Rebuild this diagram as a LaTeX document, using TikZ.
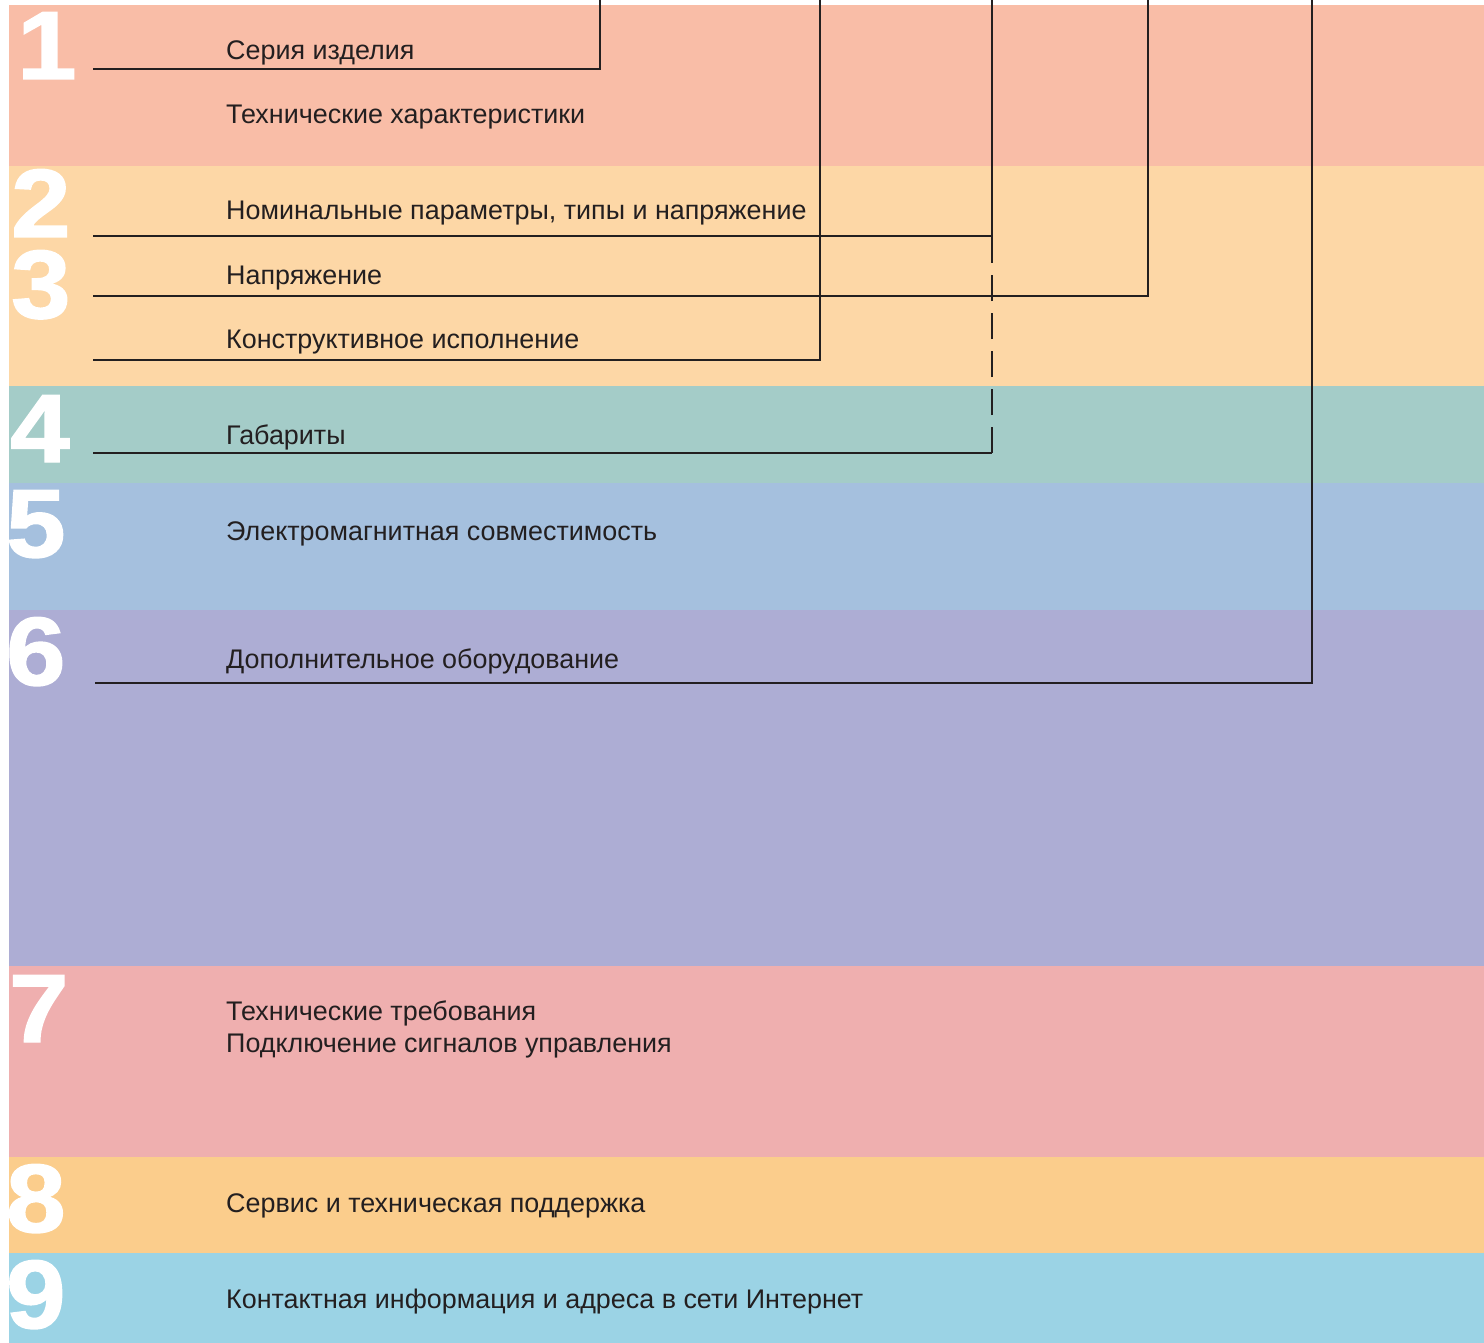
\documentclass[tikz,border=0pt]{standalone}
\usepackage{fontspec}
\setmainfont{Liberation Sans}
\newfontfamily\numfont[FakeBold=1.5]{Liberation Sans Bold}
\definecolor{cA}{HTML}{F9BDA7}
\definecolor{cB}{HTML}{FDD7A6}
\definecolor{cC}{HTML}{A4CCC8}
\definecolor{cD}{HTML}{A5C0DE}
\definecolor{cE}{HTML}{ADADD4}
\definecolor{cF}{HTML}{EFAFAF}
\definecolor{cG}{HTML}{FBCD8C}
\definecolor{cH}{HTML}{9BD3E5}
\definecolor{ink}{HTML}{231F20}
\newcommand{\bignum}[1]{\scalebox{1.1}[1]{#1}}
\tikzset{
  lbl/.style={anchor=base west, inner sep=0pt, text=ink, font=\fontsize{26.9}{32}\selectfont},
  num/.style={anchor=base west, inner sep=0pt, text=white, font=\fontsize{97}{97}\numfont},
  conn/.style={draw=ink, line width=2pt}
}
\begin{document}
\begin{tikzpicture}[x=1pt,y=-1pt]
\useasboundingbox (0,0) rectangle (1484,1343);
% bands
\fill[cA] (9,5) rectangle (1484,166);
\fill[cB] (9,166) rectangle (1484,386);
\fill[cC] (9,386) rectangle (1484,483);
\fill[cD] (9,483) rectangle (1484,610);
\fill[cE] (9,610) rectangle (1484,966);
\fill[cF] (9,966) rectangle (1484,1157);
\fill[cG] (9,1157) rectangle (1484,1253);
\fill[cH] (9,1253) rectangle (1484,1343);
% numbers
\begin{scope}
\clip (9,5) rectangle (1484,1343);
\node[num] (n1) at (17,79) {\bignum{1}};
\node[num] (n2) at (11,237) {\bignum{2}};
\node[num] (n3) at (11,318) {\bignum{3}};
\node[num] (n4) at (10,462) {\bignum{4}};
\node[num] (n5) at (6,557) {\bignum{5}};
\node[num] (n6) at (6,685) {\bignum{6}};
\node[num] (n7) at (9,1042) {\bignum{7}};
\node[num] (n8) at (6,1232) {\bignum{8}};
\node[num] (n9) at (6,1328) {\bignum{9}};
\end{scope}
% labels
\node[lbl] (t1) at (226,60) {Серия изделия};
\node[lbl] (t1b) at (226,124) {Технические характеристики};
\node[lbl] (t2) at (226,220) {Номинальные параметры, типы и напряжение};
\node[lbl] (t3) at (226,284) {Напряжение};
\node[lbl] (t3b) at (226,348) {Конструктивное исполнение};
\node[lbl] (t4) at (226,444) {Габариты};
\node[lbl] (t5) at (226,540) {Электромагнитная совместимость};
\node[lbl] (t6) at (226,668) {Дополнительное оборудование};
\node[lbl] (t7) at (226,1020) {Технические требования};
\node[lbl] (t7b) at (226,1052) {Подключение сигналов управления};
\node[lbl] (t8) at (226,1212) {Сервис и техническая поддержка};
\node[lbl] (t9) at (226,1308) {Контактная информация и адреса в сети Интернет};
% connector end points
\coordinate (s1) at (93,69);   \coordinate (k1) at (600,69);   \coordinate (e1) at (600,0);
\coordinate (s2) at (93,236);  \coordinate (k2) at (992,236);  \coordinate (e2) at (992,0);
\coordinate (s3) at (93,296);  \coordinate (k3) at (1148,296); \coordinate (e3) at (1148,0);
\coordinate (s3b) at (93,360); \coordinate (k3b) at (820,360); \coordinate (e3b) at (820,0);
\coordinate (s4) at (93,453);  \coordinate (k4) at (992,453);
\coordinate (s6) at (95,683);  \coordinate (k6) at (1312,683); \coordinate (e6) at (1312,0);
% connectors
\draw[conn] (s1) -- (k1) -- (e1);
\draw[conn] (s3b) -- (k3b) -- (e3b);
\draw[conn] (s2) -- (k2) -- (e2);
\draw[conn] (s3) -- (k3) -- (e3);
\draw[conn] (s4) -- (k4);
\draw[conn, dash pattern=on 26pt off 12pt] (k4) -- (k2);
\draw[conn] (s6) -- (k6) -- (e6);
\end{tikzpicture}
\end{document}
